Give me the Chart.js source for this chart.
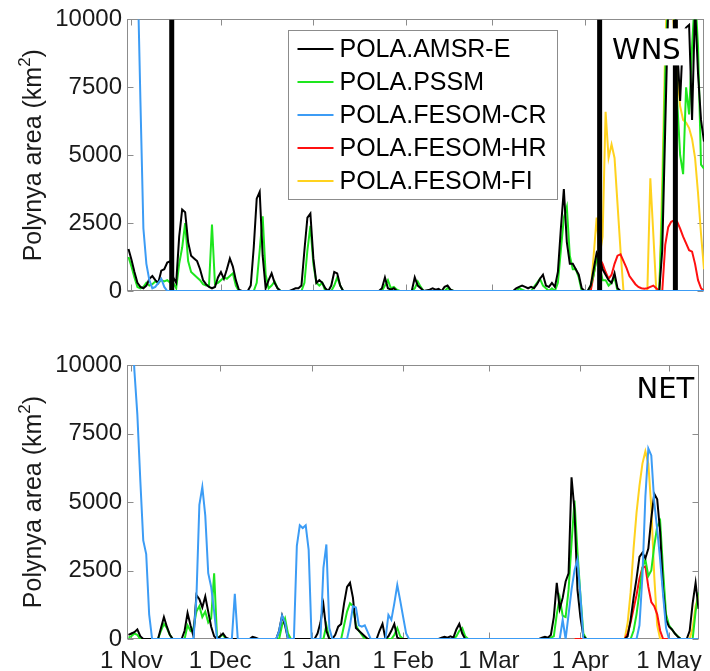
<!DOCTYPE html>
<html>
<head>
<meta charset="utf-8">
<title>Polynya area</title>
<script src="https://cdn.jsdelivr.net/npm/chart.js@4.4.1/dist/chart.umd.min.js"></script>
<style>
  html, body { margin: 0; padding: 0; background: #ffffff; }
  .panel { position: absolute; left: 0; width: 710px; }
</style>
</head>
<body>
<div class="panel" style="top:0;height:320px"><canvas id="wns"></canvas></div>
<div class="panel" style="top:320px;height:351px"><canvas id="net"></canvas></div>
<script>
// x values are days since 1 November; y values are polynya area in km²
const tickDays = [0, 30, 61, 92, 121, 152, 182];
const tickLabels = ['1 Nov', '1 Dec', '1 Jan', '1 Feb', '1 Mar', '1 Apr', '1 May'];
const yTicks = [0, 2500, 5000, 7500, 10000];
const seriesNames = ['POLA.AMSR-E', 'POLA.PSSM', 'POLA.FESOM-CR', 'POLA.FESOM-HR', 'POLA.FESOM-FI'];

// ---- WNS ----
const wnsAmsr = [[-1,1550],[0,1150],[1,700],[2,300],[3,150],[4,100],[5,200],[6,450],[7,550],[8,400],[9,300],[10,750],[11,800],[12,1050],[13,1100],[14,500],[15,300],[16,2000],[17,3000],[18,2900],[19,1800],[20,1300],[21,1200],[22,1100],[23,800],[24,400],[25,250],[26,150],[27,100],[28,150],[29,500],[30,700],[31,450],[32,800],[33,1200],[34,900],[35,400],[36,50],[37,0],[39,0],[40,200],[41,1600],[42,3400],[43,3650],[44,1300],[45,100],[46,400],[47,650],[48,300],[49,100],[50,0],[53,0],[54,50],[55,100],[56,100],[57,200],[58,1500],[59,2700],[60,2850],[61,1200],[62,300],[63,400],[64,300],[65,100],[66,0],[67,200],[68,700],[69,650],[70,200],[71,0],[83,0],[84,100],[85,500],[86,100],[87,50],[88,100],[89,0],[94,0],[95,500],[96,200],[97,100],[98,0],[100,50],[101,100],[102,50],[103,80],[104,0],[105,150],[106,200],[107,50],[108,0],[128,0],[129,100],[130,150],[131,200],[132,150],[133,100],[134,150],[135,100],[136,250],[137,450],[138,600],[139,200],[140,150],[141,300],[142,150],[143,700],[144,2300],[145,3750],[146,1800],[147,1000],[148,1000],[149,800],[150,600],[151,100],[152,0],[153,0],[154,200],[155,800],[156,1400],[157,1200],[158,800],[159,600],[160,400],[161,300],[162,650],[163,100],[164,0],[177,0],[178,1500],[179,6000],[180,10500],[181,10500],[182,11000],[183,9000],[184,7000],[185,9500],[186,9700],[187,9800],[188,6300],[189,10500],[190,8000],[191,6300],[192,5500]];
const wnsPssm = [[-1,1250],[0,900],[1,500],[2,150],[3,100],[4,150],[5,300],[6,200],[7,250],[8,350],[9,300],[10,400],[11,350],[12,400],[13,300],[14,300],[15,100],[16,1000],[17,1600],[18,2500],[19,1100],[20,700],[21,600],[22,500],[23,400],[24,250],[25,200],[26,200],[27,2450],[28,250],[29,300],[30,400],[31,500],[32,450],[33,550],[34,650],[35,200],[36,0],[41,0],[42,300],[43,1500],[44,2750],[45,600],[46,100],[47,200],[48,350],[49,100],[50,0],[57,0],[58,300],[59,1500],[60,2400],[61,1000],[62,300],[63,200],[64,300],[65,0],[67,0],[68,200],[69,500],[70,200],[71,0],[84,0],[85,200],[86,400],[87,100],[88,150],[89,50],[90,0],[94,0],[95,100],[96,350],[97,150],[98,0],[105,0],[106,100],[107,50],[108,0],[129,0],[130,100],[131,50],[132,0],[134,0],[135,150],[136,300],[137,450],[138,200],[139,100],[140,0],[141,100],[142,0],[143,300],[144,1500],[145,2700],[146,3100],[147,1300],[148,800],[149,800],[150,500],[151,0],[153,0],[154,200],[155,600],[156,1200],[157,900],[158,400],[159,400],[160,200],[161,300],[162,500],[163,0],[177,0],[178,3000],[179,8000],[180,11000],[181,12000],[182,10500],[183,7000],[184,5000],[185,4300],[186,7500],[187,6500],[188,9000],[189,11000],[190,9000],[191,4650],[192,4500]];
const wnsFesomCr = [[-1,30000],[0,25000],[1,18000],[2,12000],[3,7000],[4,2300],[5,1000],[6,400],[7,100],[8,150],[9,300],[10,450],[11,150],[12,0],[192,0]];
const wnsFesomHr = [[150,0],[154,0],[155,600],[156,1250],[157,1200],[158,1000],[159,700],[160,450],[161,600],[162,1000],[163,1300],[164,1350],[165,1100],[166,850],[167,550],[168,400],[169,250],[170,150],[171,100],[172,80],[173,100],[174,150],[175,200],[176,100],[177,0],[178,0],[179,1700],[180,2350],[181,2550],[182,2600],[183,2550],[184,2300],[185,2000],[186,1750],[187,1500],[188,1450],[189,1000],[190,400],[191,100],[192,0]];
const wnsFesomFi = [[150,0],[154,0],[155,1300],[156,2700],[157,1300],[158,2000],[159,6600],[160,4900],[161,5400],[162,4900],[163,3200],[164,1500],[165,0],[173,0],[174,4150],[175,2100],[176,0],[177,0],[178,4000],[179,9000],[180,12000],[181,11000],[182,9500],[183,8000],[184,6800],[185,6300],[186,6200],[187,6000],[188,5600],[189,4900],[190,3600],[191,2100],[192,800]];
// days on which the AMSR-E retrieval runs off the scale
const wnsAmsrOffScaleDays = [13.5, 157, 182.4];

// ---- NET ----
const netAmsr = [[-1,150],[0,200],[1,250],[2,350],[3,100],[4,0],[9,0],[10,400],[11,800],[12,450],[13,150],[14,0],[17,0],[18,300],[19,950],[20,500],[21,100],[22,1600],[23,1450],[24,1150],[25,1550],[26,1000],[27,450],[28,100],[29,0],[30,100],[31,200],[32,50],[33,0],[40,0],[41,80],[42,50],[43,0],[49,0],[50,300],[51,850],[52,500],[53,0],[62,0],[63,200],[64,600],[65,1250],[66,300],[67,0],[68,0],[69,150],[70,450],[71,550],[72,1300],[73,1900],[74,2050],[75,1500],[76,400],[77,300],[78,200],[79,100],[80,0],[83,0],[84,300],[85,550],[86,0],[87,100],[88,300],[89,550],[90,50],[91,0],[104,0],[105,50],[106,80],[107,50],[108,100],[109,50],[110,350],[111,550],[112,200],[113,0],[138,0],[139,50],[140,80],[141,50],[142,150],[143,800],[144,2050],[145,1100],[146,1500],[147,2100],[148,2400],[149,5900],[150,4700],[151,1800],[152,800],[153,100],[154,0],[167,0],[168,100],[169,700],[170,1500],[171,2200],[172,3000],[173,3150],[174,2950],[175,3300],[176,4400],[177,5300],[178,5100],[179,3900],[180,1800],[181,700],[182,450],[183,350],[184,200],[185,80],[186,0],[188,0],[189,300],[190,1300],[191,2050],[192,1100]];
const netPssm = [[-1,50],[0,100],[1,200],[2,150],[3,0],[9,0],[10,300],[11,550],[12,400],[13,150],[14,0],[18,0],[19,500],[20,300],[21,400],[22,1000],[23,1200],[24,800],[25,1000],[26,600],[27,750],[28,2400],[29,0],[30,100],[31,150],[32,0],[50,0],[51,500],[52,750],[53,200],[54,0],[65,0],[66,500],[67,0],[71,0],[72,500],[73,1000],[74,1300],[75,1200],[76,500],[77,300],[78,150],[79,0],[88,0],[89,150],[90,400],[91,100],[92,0],[109,0],[110,100],[111,300],[112,400],[113,100],[114,0],[141,0],[142,50],[143,100],[144,900],[145,1500],[146,850],[147,800],[148,1800],[149,3500],[150,5050],[151,3200],[152,1600],[153,200],[154,0],[169,0],[170,300],[171,900],[172,1700],[173,2600],[174,2900],[175,2300],[176,2500],[177,3400],[178,4100],[179,4300],[180,2500],[181,900],[182,500],[183,350],[184,200],[185,100],[186,0],[190,0],[191,1000],[192,1700]];
const netFesomCr = [[-1,14000],[0,12000],[1,9800],[2,8200],[3,5800],[4,3600],[5,3100],[6,900],[7,0],[21,0],[22,1500],[23,4900],[24,5550],[25,4500],[26,2400],[27,1900],[28,1000],[29,0],[34,0],[35,1650],[36,0],[49,0],[50,300],[51,850],[52,600],[53,0],[55,0],[56,3400],[57,4150],[58,4050],[59,4150],[60,3250],[61,0],[64,0],[65,2600],[66,3450],[67,400],[68,0],[73,0],[74,500],[75,1200],[76,1150],[77,500],[78,450],[79,500],[80,250],[81,0],[86,0],[87,880],[88,700],[89,1300],[90,1970],[91,1400],[92,800],[93,200],[94,0],[145,0],[146,700],[147,0],[148,900],[149,1800],[150,2500],[151,2900],[152,1600],[153,0],[171,0],[172,500],[173,2300],[174,5200],[175,6950],[176,6700],[177,5000],[178,4000],[179,2900],[180,1600],[181,400],[182,0],[192,0]];
const netFesomHr = [[150,0],[167,0],[168,200],[169,600],[170,1100],[171,1600],[172,2200],[173,2600],[174,2650],[175,1900],[176,1350],[177,1200],[178,900],[179,300],[180,0],[192,0]];
const netFesomFi = [[150,0],[167,0],[168,600],[169,1700],[170,3300],[171,4600],[172,5600],[173,6400],[174,6850],[175,6400],[176,4800],[177,2300],[178,500],[179,0],[189,0],[190,400],[191,1200],[192,1600]];

// ---- styling ----
const seriesColors = ['#000000', '#1ee61e', '#3c9cf5', '#ff1010', '#ffd21e'];
const seriesOrder = [1, 2, 0, 3, 4];      // FESOM-CR on top, FESOM-FI underneath
const frameColor = '#8c8c8c';
const textColor = '#1a1a1a';
const tickFont = { family: '"Liberation Sans", Arial, sans-serif', size: 24 };

Chart.defaults.font.family = '"Liberation Sans", Arial, sans-serif';
Chart.defaults.color = textColor;

function toPoints(pairs) {
  return pairs.map(p => ({ x: p[0], y: p[1] }));
}

function buildDatasets(seriesList, offScaleDays) {
  const sets = seriesList.map((pairs, i) => ({
    label: seriesNames[i],
    data: toPoints(pairs),
    borderColor: seriesColors[i],
    backgroundColor: seriesColors[i],
    borderWidth: 2,
    pointRadius: 0,
    tension: 0,
    fill: false,
    order: seriesOrder[i]
  }));
  if (offScaleDays) {
    const pts = [];
    offScaleDays.forEach(d => { pts.push({ x: d, y: 0 }, { x: d, y: 10000 }, { x: d, y: null }); });
    sets.push({
      label: 'off-scale',
      data: pts,
      borderColor: '#000000',
      borderWidth: 5,
      borderCapStyle: 'butt',
      pointRadius: 0,
      spanGaps: false,
      fill: false,
      order: 1
    });
  }
  return sets;
}

// box around the axes with MATLAB-style inward tick marks
const framePlugin = {
  id: 'frame',
  beforeDatasetsDraw(chart) {
    const { ctx, chartArea: a, scales } = chart;
    const L = Math.round(a.left) + 0.5, R = Math.round(a.right) - 0.5;
    const T = Math.round(a.top) + 0.5, B = Math.round(a.bottom) - 0.5;
    ctx.save();
    ctx.strokeStyle = frameColor;
    ctx.lineWidth = 1;
    ctx.strokeRect(L, T, R - L, B - T);
    const len = 6;
    ctx.beginPath();
    scales.x.ticks.forEach(t => {
      const px = Math.round(scales.x.getPixelForValue(t.value)) + 0.5;
      ctx.moveTo(px, T); ctx.lineTo(px, T + len);
      ctx.moveTo(px, B); ctx.lineTo(px, B - len);
    });
    scales.y.ticks.forEach(t => {
      const py = Math.round(scales.y.getPixelForValue(t.value)) + 0.5;
      ctx.moveTo(L, py); ctx.lineTo(L + len, py);
      ctx.moveTo(R, py); ctx.lineTo(R - len, py);
    });
    ctx.stroke();
    ctx.restore();
  }
};

// rotated y-axis title with a raised exponent
const yTitlePlugin = {
  id: 'yTitle',
  afterDraw(chart) {
    const { ctx, chartArea: a } = chart;
    const main = 'Polynya area (km', sup = '2', tail = ')';
    const fMain = '25px "Liberation Sans", Arial, sans-serif';
    const fSup = '17px "Liberation Sans", Arial, sans-serif';
    ctx.save();
    ctx.font = fMain;
    const w1 = ctx.measureText(main).width, w3 = ctx.measureText(tail).width;
    ctx.font = fSup;
    const w2 = ctx.measureText(sup).width;
    const total = w1 + w2 + w3;
    ctx.translate(41, (a.top + a.bottom) / 2);
    ctx.rotate(-Math.PI / 2);
    ctx.fillStyle = textColor;
    ctx.textBaseline = 'alphabetic';
    ctx.textAlign = 'left';
    let u = -total / 2;
    ctx.font = fMain; ctx.fillText(main, u, 0); u += w1;
    ctx.font = fSup; ctx.fillText(sup, u, -11); u += w2;
    ctx.font = fMain; ctx.fillText(tail, u, 0);
    ctx.restore();
  }
};

// region name in the upper right corner
function regionLabelPlugin(text, dx, baseline, boxed) {
  return {
    id: 'regionLabel',
    afterDatasetsDraw(chart) {
      const { ctx, chartArea: a } = chart;
      ctx.save();
      ctx.font = '29px "DejaVu Sans", sans-serif';
      const w = ctx.measureText(text).width;
      const x = a.right - dx;
      const y = a.top + baseline;
      if (boxed) {
        ctx.fillStyle = '#ffffff';
        ctx.fillRect(x - 5, y - 31, w + 11, 37);
      }
      ctx.fillStyle = '#000000';
      ctx.textBaseline = 'alphabetic';
      ctx.fillText(text, x, y);
      ctx.restore();
    }
  };
}

// legend box inside the WNS axes
const legendBoxPlugin = {
  id: 'legendBox',
  afterDatasetsDraw(chart) {
    const { ctx, chartArea: a } = chart;
    const bx = Math.round(a.left + 161) + 0.5, by = Math.round(a.top + 11) + 0.5;
    const bw = 269, bh = 169;
    ctx.save();
    ctx.fillStyle = '#ffffff';
    ctx.fillRect(bx, by, bw, bh);
    ctx.strokeStyle = frameColor;
    ctx.lineWidth = 1;
    ctx.strokeRect(bx, by, bw, bh);
    ctx.font = '25px "Liberation Sans", Arial, sans-serif';
    ctx.textBaseline = 'middle';
    seriesNames.forEach((name, i) => {
      const y = by + 18.5 + 33 * i;
      ctx.strokeStyle = seriesColors[i];
      ctx.lineWidth = 2;
      ctx.beginPath();
      ctx.moveTo(bx + 9, y);
      ctx.lineTo(bx + 45, y);
      ctx.stroke();
      ctx.fillStyle = '#000000';
      ctx.fillText(name, bx + 51, y + 1);
    });
    ctx.restore();
  }
};

function makeOptions(showXLabels, padTop, xHeight) {
  return {
    responsive: true,
    maintainAspectRatio: false,
    animation: false,
    devicePixelRatio: 1,
    layout: { padding: { left: 0, right: 6, top: padTop, bottom: 0 } },
    plugins: { legend: { display: false }, tooltip: { enabled: false } },
    scales: {
      x: {
        type: 'linear',
        min: -1.5,
        max: 192,
        grid: { display: false, drawTicks: false },
        border: { display: false },
        afterBuildTicks(scale) { scale.ticks = tickDays.map(v => ({ value: v })); },
        afterFit(scale) { scale.height = xHeight; },
        ticks: {
          display: showXLabels,
          autoSkip: false,
          maxRotation: 0,
          padding: 8,
          font: tickFont,
          color: textColor,
          callback: (v) => tickLabels[tickDays.indexOf(v)]
        }
      },
      y: {
        type: 'linear',
        min: 0,
        max: 10000,
        grid: { display: false, drawTicks: false },
        border: { display: false },
        afterBuildTicks(scale) { scale.ticks = yTicks.map(v => ({ value: v })); },
        afterFit(scale) { scale.width = 127; },
        ticks: {
          padding: 5,
          font: tickFont,
          color: textColor,
          callback: (v) => String(v)
        }
      }
    }
  };
}

new Chart(document.getElementById('wns'), {
  type: 'line',
  data: { datasets: buildDatasets([wnsAmsr, wnsPssm, wnsFesomCr, wnsFesomHr, wnsFesomFi], wnsAmsrOffScaleDays) },
  options: makeOptions(false, 17, 29),
  plugins: [framePlugin, legendBoxPlugin, regionLabelPlugin('WNS', 92, 40, true), yTitlePlugin]
});

new Chart(document.getElementById('net'), {
  type: 'line',
  data: { datasets: buildDatasets([netAmsr, netPssm, netFesomCr, netFesomHr, netFesomFi], null) },
  options: makeOptions(true, 45, 32),
  plugins: [framePlugin, regionLabelPlugin('NET', 62, 33, false), yTitlePlugin]
});
</script>
</body>
</html>
